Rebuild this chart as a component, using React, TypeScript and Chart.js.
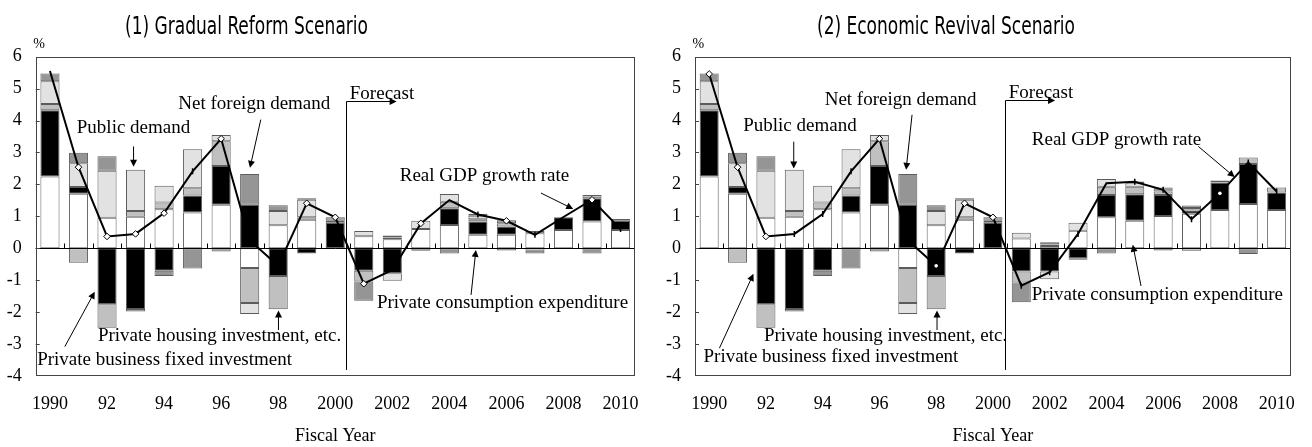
import React, { useEffect, useRef } from 'react';
import { Chart, registerables } from 'chart.js';
Chart.register(...registerables);

const SERIF = "'Liberation Serif', 'Times New Roman', Times, serif";
const NARROW = "'Liberation Sans Narrow', 'Arial Narrow', 'DejaVu Sans Condensed', sans-serif";

const years = ['1990','1991','1992','1993','1994','1995','1996','1997','1998','1999','2000','2001','2002','2003','2004','2005','2006','2007','2008','2009','2010'];
const tickLabels = ['1990','','92','','94','','96','','98','','2000','','2002','','2004','','2006','','2008','','2010'];

// (1) Gradual Reform Scenario — contributions, % points
const consumption1 = [2.25,1.71,0.96,0.99,1.22,1.12,1.36,-0.62,0.72,0.89,0,0.38,0.28,0.6,0.73,0.42,0.42,0.47,0.57,0.84,0.57];
const business1 = [2.07,0.21,-1.75,-1.9,-0.7,0.53,1.22,1.36,-0.87,-0.16,0.8,-0.7,-0.78,0,0.52,0.42,0.26,0,0.4,0.73,0.29];
const housing1 = [0.2,-0.45,-0.74,0.18,0.21,0.23,0.77,-1.09,-1.04,0.08,0.06,-0.34,0.06,0,0.21,0.07,0.1,0.07,0,0.1,0.06];
const public1 = [0.71,0.74,1.47,1.29,0.53,1.22,0.2,-0.35,0.45,0.55,0,0.16,-0.24,0.26,0.24,0.11,-0.07,-0.08,0,0,0];
const netForeign1 = [0.24,0.33,0.45,-0.08,-0.17,-0.63,-0.1,0.97,0.18,0.05,0.11,-0.6,0.06,-0.08,-0.16,0.06,0.1,-0.08,0,-0.16,0];
const gdp1 = [5.55,2.54,0.37,0.45,1.1,2.41,3.43,0.25,-0.55,1.41,0.97,-1.11,-0.68,0.78,1.51,1.06,0.86,0.42,0.98,1.52,0.6];

// (2) Economic Revival Scenario
const consumption2 = [2.25,1.71,0.96,0.99,1.22,1.12,1.36,-0.62,0.72,0.89,0,0.31,0.07,0.55,0.97,0.86,1.01,1.08,1.2,1.39,1.2];
const business2 = [2.07,0.21,-1.75,-1.9,-0.7,0.53,1.22,1.36,-0.87,-0.16,0.8,-0.73,-0.73,-0.31,0.7,0.83,0.66,0.1,0.86,1.25,0.55];
const housing2 = [0.2,-0.45,-0.74,0.18,0.21,0.23,0.77,-1.09,-1.04,0.08,0.06,-0.34,0.05,0,0.26,0.24,0.11,0.08,0,0.2,0.15];
const public2 = [0.71,0.74,1.47,1.29,0.53,1.22,0.2,-0.35,0.45,0.55,0,0.18,-0.24,0.25,0.24,0.11,-0.07,-0.08,0,0,0];
const netForeign2 = [0.24,0.33,0.45,-0.08,-0.17,-0.63,-0.1,0.97,0.18,0.05,0.11,-0.62,0.07,-0.05,-0.16,0.05,0.12,0.08,0.06,-0.18,0];
const gdp2 = [5.46,2.54,0.37,0.45,1.07,2.41,3.43,0.25,-0.55,1.41,0.97,-1.17,-0.75,0.45,2.04,2.08,1.83,0.91,1.72,2.69,1.78];

// marker style per point: d = diamond, t = tick, w = white dot, '' = none
const markers1 = ['', 'd','d','d','d','t','d','','','d','d','d','','d','','t','d','t','','d','t'];
const markers2 = ['d','d','d','t','t','t','d','','w','d','d','t','t','t','','t','t','t','w','t','t'];

const COLORS = ['#ffffff', '#000000', '#c0c0c0', '#e2e2e2', '#959595'];
const SERIES_NAMES = ['Private consumption expenditure', 'Private business fixed investment', 'Private housing investment, etc.', 'Public demand', 'Net foreign demand'];

type Ann = { text: string; tx: number; ty: number; arrow: [number, number, number, number] };

const ann1: Ann[] = [
  { text: 'Public demand', tx: 0.94, ty: 3.78, arrow: [2.93, 3.19, 2.93, 2.55] },
  { text: 'Net foreign demand', tx: 4.5, ty: 4.53, arrow: [7.39, 4.03, 7.01, 2.52] },
  { text: 'Real GDP growth rate', tx: 12.26, ty: 2.27, arrow: [17.21, 1.73, 18.34, 1.23] },
  { text: 'Private consumption expenditure', tx: 11.46, ty: -1.71, arrow: [14.76, -1.46, 14.93, -0.05] },
  { text: 'Private housing investment, etc.', tx: 1.68, ty: -2.76, arrow: [8.01, -2.56, 8.01, -1.95] },
  { text: 'Private business fixed investment', tx: -0.45, ty: -3.5, arrow: [0.52, -3.08, 1.57, -1.36] },
];
const ann2: Ann[] = [
  { text: 'Public demand', tx: 1.2, ty: 3.82, arrow: [2.98, 3.34, 2.98, 2.5] },
  { text: 'Net foreign demand', tx: 4.07, ty: 4.64, arrow: [7.15, 4.18, 6.94, 2.46] },
  { text: 'Real GDP growth rate', tx: 11.37, ty: 3.38, arrow: [17.24, 3.19, 18.52, 2.23] },
  { text: 'Private consumption expenditure', tx: 11.37, ty: -1.45, arrow: [15.22, -1.18, 14.93, 0.11] },
  { text: 'Private housing investment, etc.', tx: 1.93, ty: -2.76, arrow: [8.03, -2.56, 8.03, -1.95] },
  { text: 'Private business fixed investment', tx: -0.2, ty: -3.42, arrow: [0.36, -3.13, 1.56, -0.8] },
];

type Panel = {
  title: string; titleCx: number; titleW: number;
  series: number[][]; gdp: number[]; markers: string[]; ann: Ann[];
  padRight: number; yWidth: number;
  forecast: { x: number; top: number; bottom: number; arrowTo: number; tx: number; ty: number };
};

const panels: Panel[] = [
  {
    title: '(1) Gradual Reform Scenario', titleCx: 246.5, titleW: 243,
    series: [consumption1, business1, housing1, public1, netForeign1], gdp: gdp1, markers: markers1, ann: ann1,
    padRight: 19, yWidth: 35.7,
    forecast: { x: 10.39, top: 4.6, bottom: -3.81, arrowTo: 12.15, tx: 10.51, ty: 4.82 },
  },
  {
    title: '(2) Economic Revival Scenario', titleCx: 290, titleW: 258,
    series: [consumption2, business2, housing2, public2, netForeign2], gdp: gdp2, markers: markers2, ann: ann2,
    padRight: 15.3, yWidth: 39,
    forecast: { x: 10.44, top: 4.63, bottom: -3.81, arrowTo: 12.19, tx: 10.56, ty: 4.85 },
  },
];

function arrowHead(ctx: CanvasRenderingContext2D, x1: number, y1: number, x2: number, y2: number) {
  const ang = Math.atan2(y2 - y1, x2 - x1);
  const len = 7, hw = 3.5;
  ctx.beginPath();
  ctx.moveTo(x2, y2);
  ctx.lineTo(x2 - len * Math.cos(ang) + hw * Math.sin(ang), y2 - len * Math.sin(ang) - hw * Math.cos(ang));
  ctx.lineTo(x2 - len * Math.cos(ang) - hw * Math.sin(ang), y2 - len * Math.sin(ang) + hw * Math.cos(ang));
  ctx.closePath();
  ctx.fill();
}

function makeDecor(p: Panel) {
  const px = (chart: any, idx: number) => {
    const x = chart.scales.x;
    const p0 = x.getPixelForValue(0), p1 = x.getPixelForValue(1);
    return p0 + idx * (p1 - p0);
  };
  return {
    id: 'decor',
    beforeDatasetDraw(chart: any, args: any) {
      if (args.index !== 5) return;
      const { ctx, chartArea: a, scales: { y } } = chart;
      ctx.save();
      const y0 = Math.round(y.getPixelForValue(0)) + 0.5;
      ctx.strokeStyle = '#000';
      ctx.lineWidth = 1;
      ctx.beginPath();
      ctx.moveTo(a.left, y0); ctx.lineTo(a.right, y0);
      for (let i = 0; i < years.length - 1; i++) {
        const xb = Math.round(px(chart, i + 0.5)) + 0.5;
        ctx.moveTo(xb, y0); ctx.lineTo(xb, y0 - 5);
      }
      ctx.stroke();
      ctx.restore();
    },
    afterDraw(chart: any) {
      const { ctx, chartArea: a, scales: { y } } = chart;
      ctx.save();
      // plot frame
      ctx.strokeStyle = '#444';
      ctx.lineWidth = 1;
      ctx.strokeRect(Math.round(a.left) + 0.5, Math.round(a.top) + 0.5, Math.round(a.right - a.left) - 1, Math.round(a.bottom - a.top) - 1);
      // inner y ticks
      ctx.beginPath();
      for (let v = -3; v <= 5; v++) {
        const yy = Math.round(y.getPixelForValue(v)) + 0.5;
        ctx.moveTo(a.left, yy); ctx.lineTo(a.left + 4, yy);
      }
      ctx.stroke();
      // forecast marker
      const f = p.forecast;
      const fx = Math.round(px(chart, f.x)) + 0.5;
      const ft = Math.round(y.getPixelForValue(f.top)) + 0.5;
      const fb = y.getPixelForValue(f.bottom);
      const fe = px(chart, f.arrowTo);
      ctx.strokeStyle = '#000';
      ctx.fillStyle = '#000';
      ctx.beginPath();
      ctx.moveTo(fx, fb); ctx.lineTo(fx, ft); ctx.lineTo(fe - 4, ft);
      ctx.stroke();
      arrowHead(ctx, fx, ft, fe, ft);
      ctx.font = `19px ${SERIF}`;
      ctx.textBaseline = 'middle';
      ctx.textAlign = 'left';
      ctx.fillText('Forecast', px(chart, f.tx), y.getPixelForValue(f.ty));
      // annotations
      for (const an of p.ann) {
        ctx.fillText(an.text, px(chart, an.tx), y.getPixelForValue(an.ty));
        const [ax1, ay1, ax2, ay2] = an.arrow;
        const X1 = px(chart, ax1), Y1 = y.getPixelForValue(ay1), X2 = px(chart, ax2), Y2 = y.getPixelForValue(ay2);
        const ang = Math.atan2(Y2 - Y1, X2 - X1);
        ctx.beginPath();
        ctx.moveTo(X1, Y1);
        ctx.lineTo(X2 - 5 * Math.cos(ang), Y2 - 5 * Math.sin(ang));
        ctx.stroke();
        arrowHead(ctx, X1, Y1, X2, Y2);
      }
      // percent label
      ctx.font = `14px ${SERIF}`;
      ctx.textBaseline = 'alphabetic';
      ctx.fillText('%', a.left - 2.5, 48);
      // panel title (condensed sans)
      ctx.font = `24px ${NARROW}`;
      const w = ctx.measureText(p.title).width;
      ctx.translate(p.titleCx, 33.5);
      ctx.scale(p.titleW / w, 1);
      ctx.textAlign = 'center';
      ctx.fillText(p.title, 0, 0);
      ctx.restore();
    },
  };
}

function markerProps(markers: string[]) {
  return {
    pointStyle: markers.map(m => (m === 'd' ? 'rectRot' : m === 't' ? 'line' : 'circle')),
    pointRadius: markers.map(m => (m === 'd' ? 3.3 : m === 't' ? 3 : m === 'w' ? 1.8 : 0)),
    pointBackgroundColor: markers.map(m => (m === '' ? 'rgba(0,0,0,0)' : '#ffffff')),
    pointBorderColor: markers.map(m => (m === 'w' ? '#ffffff' : '#000000')),
    pointBorderWidth: markers.map(m => (m === 't' ? 1.5 : m === 'd' ? 1 : 0)),
    pointRotation: markers.map(m => (m === 't' ? 90 : 0)),
  };
}

function ChartPanel({ p, left }: { p: Panel; left: number }) {
  const ref = useRef<HTMLCanvasElement | null>(null);
  useEffect(() => {
    if (!ref.current) return;
    const datasets: any[] = p.series.map((s, i) => ({
      type: 'bar',
      label: SERIES_NAMES[i],
      data: s.map(v => (v === 0 ? null : v)),
      backgroundColor: COLORS[i],
      borderColor: '#5c5c5c',
      borderWidth: 1,
      borderSkipped: false,
      barPercentage: 0.67,
      categoryPercentage: 1,
      order: 1,
      stack: 'contrib',
    }));
    datasets.push({
      type: 'line',
      label: 'Real GDP growth rate',
      data: p.gdp,
      borderColor: '#000',
      borderWidth: 2,
      tension: 0,
      fill: false,
      order: 0,
      stack: 'gdp',
      ...markerProps(p.markers),
    });
    const chart = new Chart(ref.current, {
      type: 'bar',
      data: { labels: years, datasets },
      options: {
        animation: false,
        responsive: true,
        maintainAspectRatio: false,
        layout: { padding: { left: 0, right: p.padRight, top: 56.7, bottom: 0 } },
        plugins: { legend: { display: false }, tooltip: { enabled: false }, title: { display: false } },
        scales: {
          x: {
            stacked: true,
            grid: { display: false, drawTicks: false },
            border: { display: false },
            ticks: {
              autoSkip: false, maxRotation: 0, minRotation: 0, padding: 17, color: '#000',
              font: { family: SERIF, size: 18 },
              callback: (_v: any, i: number) => tickLabels[i],
            },
            title: { display: true, text: 'Fiscal Year', color: '#000', font: { family: SERIF, size: 18 }, padding: { top: 0, bottom: 0 } },
            afterFit: (s: any) => { s.height = 71; },
          },
          y: {
            stacked: true,
            min: -4, max: 6,
            grid: { display: false, drawTicks: false },
            border: { display: false },
            ticks: { stepSize: 1, padding: 14, color: '#000', font: { family: SERIF, size: 18 } },
            afterFit: (s: any) => { s.width = p.yWidth; },
          },
        },
      },
      plugins: [makeDecor(p)],
    } as any);
    return () => chart.destroy();
  }, [p]);
  return (
    <div style={{ position: 'absolute', left, top: 0, width: 656, height: 447 }}>
      <canvas ref={ref} />
    </div>
  );
}

export default function App() {
  return (
    <div style={{ position: 'fixed', left: 0, top: 0, width: 1312, height: 447, background: '#fff', overflow: 'hidden' }}>
      <ChartPanel p={panels[0]} left={0} />
      <ChartPanel p={panels[1]} left={656} />
    </div>
  );
}
